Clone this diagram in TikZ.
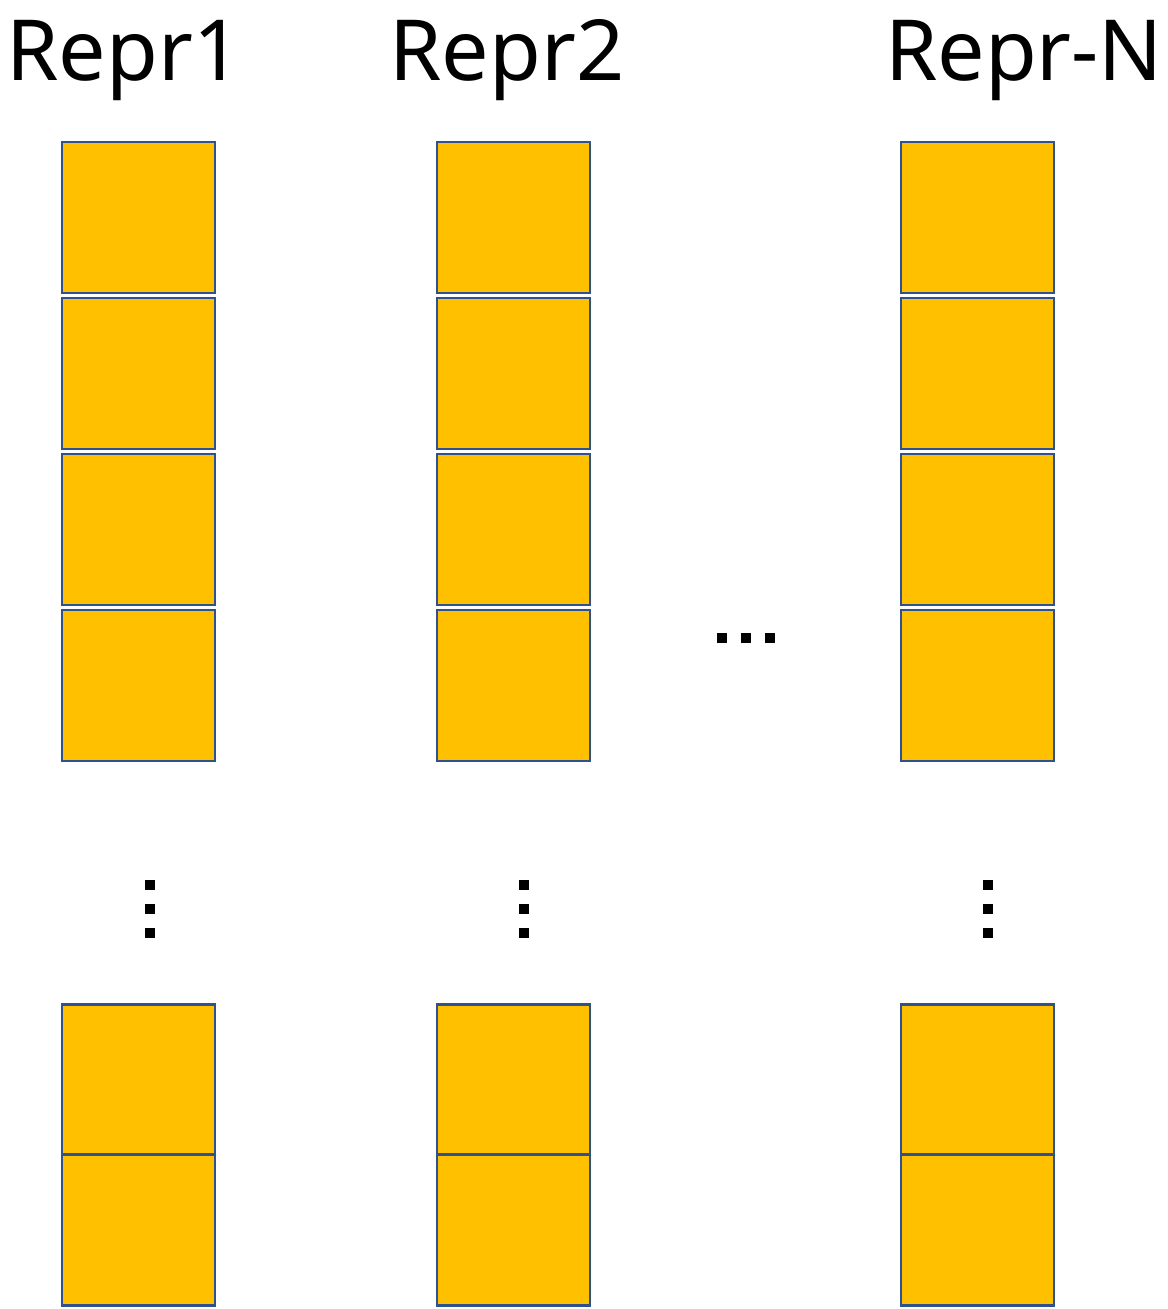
\documentclass[tikz,border=0pt]{standalone}
\usepackage{fontspec}
\setmainfont{Noto Sans}
\usetikzlibrary{positioning}

\definecolor{cellgold}{HTML}{FFC000}
\definecolor{cellblue}{HTML}{2F528F}

\tikzset{
  cell/.style={draw=cellblue, fill=cellgold, line width=1.6pt, minimum width=3.06cm, minimum height=3.02cm, inner sep=0pt},
  dotsq/.style={fill=black, minimum size=0.2cm, inner sep=0pt},
  reprlabel/.style={anchor=base, font=\fontsize{48}{52}\selectfont, inner sep=0pt}
}

\begin{document}
\begin{tikzpicture}[x=0.02cm, y=-0.02cm]
\useasboundingbox (0,0) rectangle (1168,1309);

% Labels
\node[reprlabel] (lab1) at (124,80) {Repr1};
\node[reprlabel] (lab2) at (507,80) {Repr2};
\node[reprlabel] (labN) at (1024,80) {Repr-N};

% Column 1
\begin{scope}[shift={(138.5,0)}]
  \node[cell] (a1) at (0,217.5) {};
  \node[cell] (a2) at (0,373.5) {};
  \node[cell] (a3) at (0,529.5) {};
  \node[cell] (a4) at (0,685.5) {};
  % vertical dots
  \node[dotsq] (av1) at (11,885) {};
  \node[dotsq] (av2) at (11,909) {};
  \node[dotsq] (av3) at (11,933) {};
  \node[cell] (a5) at (0,1080) {};
  \node[cell] (a6) at (0,1230) {};
\end{scope}

% Column 2
\begin{scope}[shift={(513.5,0)}]
  \node[cell] (b1) at (0,217.5) {};
  \node[cell] (b2) at (0,373.5) {};
  \node[cell] (b3) at (0,529.5) {};
  \node[cell] (b4) at (0,685.5) {};
  \node[dotsq] (bv1) at (10.5,885) {};
  \node[dotsq] (bv2) at (10.5,909) {};
  \node[dotsq] (bv3) at (10.5,933) {};
  \node[cell] (b5) at (0,1080) {};
  \node[cell] (b6) at (0,1230) {};
\end{scope}

% Column N
\begin{scope}[shift={(977.5,0)}]
  \node[cell] (n1) at (0,217.5) {};
  \node[cell] (n2) at (0,373.5) {};
  \node[cell] (n3) at (0,529.5) {};
  \node[cell] (n4) at (0,685.5) {};
  \node[dotsq] (nv1) at (10.5,885) {};
  \node[dotsq] (nv2) at (10.5,909) {};
  \node[dotsq] (nv3) at (10.5,933) {};
  \node[cell] (n5) at (0,1080) {};
  \node[cell] (n6) at (0,1230) {};
\end{scope}

% Horizontal dots between columns
\node[dotsq] (h1) at (722,638) {};
\node[dotsq] (h2) at (746,638) {};
\node[dotsq] (h3) at (770,638) {};
\end{tikzpicture}
\end{document}
